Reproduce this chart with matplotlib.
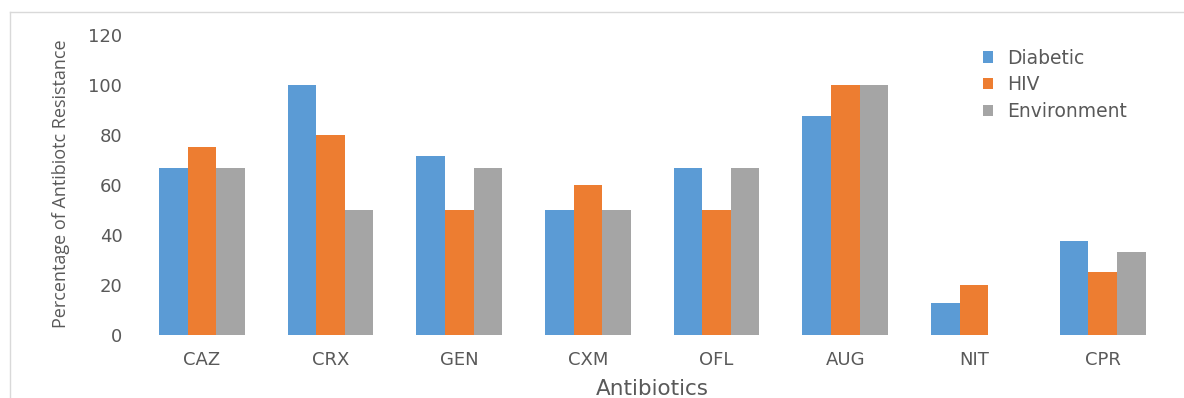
import numpy as np
import matplotlib.pyplot as plt
from matplotlib.lines import Line2D

categories = ['CAZ', 'CRX', 'GEN', 'CXM', 'OFL', 'AUG', 'NIT', 'CPR']
diabetic = [66.7, 100, 71.4, 50, 66.7, 87.5, 12.5, 37.5]
hiv = [75, 80, 50, 60, 50, 100, 20, 25]
environment = [66.7, 50, 66.7, 50, 66.7, 100, 0, 33.3]
series_names = ['Diabetic', 'HIV', 'Environment']
colors = ['#5B9BD5', '#ED7D31', '#A5A5A5']
text_color = '#595959'

plt.rcParams['font.family'] = ['DejaVu Sans']

W, H = 1184, 398
fig = plt.figure(figsize=(W / 100, H / 100), dpi=100)
ax = fig.add_axes([137.6 / W, (H - 334.7) / H, (1167 - 137.6) / W, (334.7 - 35) / H])

x = np.arange(len(categories))
bw = 0.222
for i, (vals, name, col) in enumerate(zip([diabetic, hiv, environment], series_names, colors)):
    ax.bar(x + (i - 1) * bw, vals, width=bw, color=col, label=name, linewidth=0)

ax.set_xlim(-0.5, len(categories) - 0.5)
ax.set_ylim(0, 120)
ax.set_yticks(range(0, 121, 20))
ax.set_xticks(x)
ax.set_xticklabels(categories)
ax.tick_params(axis='both', length=0, colors=text_color, labelsize=13)
ax.tick_params(axis='y', pad=11)
ax.tick_params(axis='x', pad=12)
for s in ax.spines.values():
    s.set_visible(False)

fig.text(652 / W, 1 - 389 / H, 'Antibiotics', ha='center', va='center',
         fontsize=15.5, color=text_color)
fig.text(61 / W, 1 - 184 / H, 'Percentage of Antibiotc Resistance', rotation=90,
         ha='center', va='center', fontsize=13, color=text_color,
         family=['Open Sans', 'DejaVu Sans'])

leg = ax.legend(loc='upper left', bbox_to_anchor=((975 - 137.6) / (1167 - 137.6), 1 - (41 - 35) / (334.7 - 35)),
                frameon=False, fontsize=13.5, handlelength=0.55, handleheight=0.55,
                handletextpad=0.75, labelspacing=0.42, borderaxespad=0)
for t in leg.get_texts():
    t.set_color(text_color)

# outer chart frame (light gray)
fig.add_artist(Line2D([10 / W, 1], [1 - 12 / H, 1 - 12 / H], color='#D9D9D9', lw=1))
fig.add_artist(Line2D([10 / W, 10 / W], [0, 1 - 12 / H], color='#D9D9D9', lw=1))

fig.savefig('out.png', dpi=100)
